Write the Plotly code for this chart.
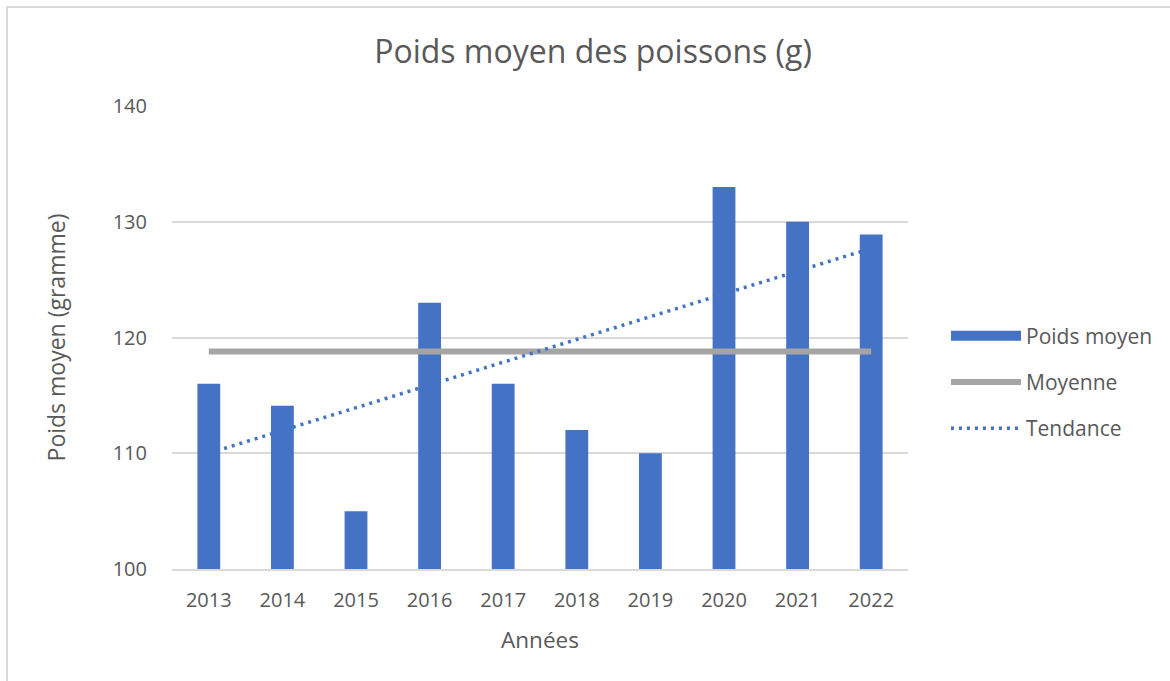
import plotly.graph_objects as go

years = ["2013", "2014", "2015", "2016", "2017", "2018", "2019", "2020", "2021", "2022"]
poids = [116, 114.1, 105, 123, 116, 112, 110, 133, 130, 128.9]
moyenne = [118.8, 118.8]
moyenne_x = ["2013", "2022"]
tendance = [110.0, 127.7]
tendance_x = ["2013", "2022"]
y_ticks = [100, 110, 120, 130, 140]

FONT = "Open Sans"
GREY_TXT = "#595959"
BLUE = "#4472c4"

fig = go.Figure()
fig.add_trace(go.Bar(x=years, y=poids, name="Poids moyen",
                     marker=dict(color=BLUE, line=dict(width=0)),
                     showlegend=False))
# legend proxy: wide rectangle swatch like the reference
fig.add_trace(go.Scatter(x=[years[0]], y=[None], name="Poids moyen", mode="lines",
                         line=dict(color=BLUE, width=14),
                         legendgroup="a", hoverinfo="skip"))
fig.add_trace(go.Scatter(x=moyenne_x, y=moyenne, name="Moyenne", mode="lines",
                         line=dict(color="#a5a5a5", width=6),
                         legendgroup="b"))
fig.add_trace(go.Scatter(x=tendance_x, y=tendance, name="Tendance", mode="lines",
                         line=dict(color=BLUE, width=3.5, dash="3px,5px"),
                         legendgroup="c"))

L, T, R, B = 172, 106, 262, 112
W, H = 1170, 681
pw, ph = W - L - R, H - T - B

fig.update_layout(
    width=W, height=H,
    margin=dict(l=L, r=R, t=T, b=B, autoexpand=False),
    paper_bgcolor="white", plot_bgcolor="white",
    font=dict(family=FONT, color=GREY_TXT, size=20),
    title=dict(text="Poids moyen des poissons (g)", x=593 / W, xanchor="center",
               y=1 - 52 / H, yanchor="middle",
               font=dict(size=32, color=GREY_TXT, family=FONT)),
    bargap=0.69,
    showlegend=True,
    legend=dict(x=(946 - L) / pw, xanchor="left", y=(569 - 382) / ph, yanchor="middle",
                itemwidth=70, tracegroupgap=16, traceorder="grouped",
                font=dict(size=21, color=GREY_TXT, family=FONT),
                bgcolor="rgba(0,0,0,0)"),
    xaxis=dict(type="category", showgrid=False, showline=True, linecolor="#d9d9d9",
               linewidth=2, ticks="", ticklabelstandoff=12,
               tickfont=dict(size=20, color=GREY_TXT),
               title=dict(text="Années", standoff=20, font=dict(size=22.5, color=GREY_TXT))),
    yaxis=dict(range=[100, 140], tickvals=y_ticks, showgrid=True, gridcolor="#d9d9d9",
               gridwidth=2, zeroline=False, showline=False, ticks="", ticklabelstandoff=24,
               tickfont=dict(size=20, color=GREY_TXT),
               title=dict(text="Poids moyen (gramme)", standoff=40,
                          font=dict(size=23, color=GREY_TXT))),
    shapes=[dict(type="rect", xref="paper", yref="paper",
                 x0=(7 - L) / pw, x1=(W + 20 - L) / pw,
                 y0=(569 - (H + 20)) / ph, y1=(569 - 7) / ph,
                 line=dict(color="#d9d9d9", width=2), fillcolor="rgba(0,0,0,0)",
                 layer="below")],
)

fig.write_html("out.html", config={"displayModeBar": False},
               post_script="document.body.style.margin='0';document.body.style.padding='0';")
